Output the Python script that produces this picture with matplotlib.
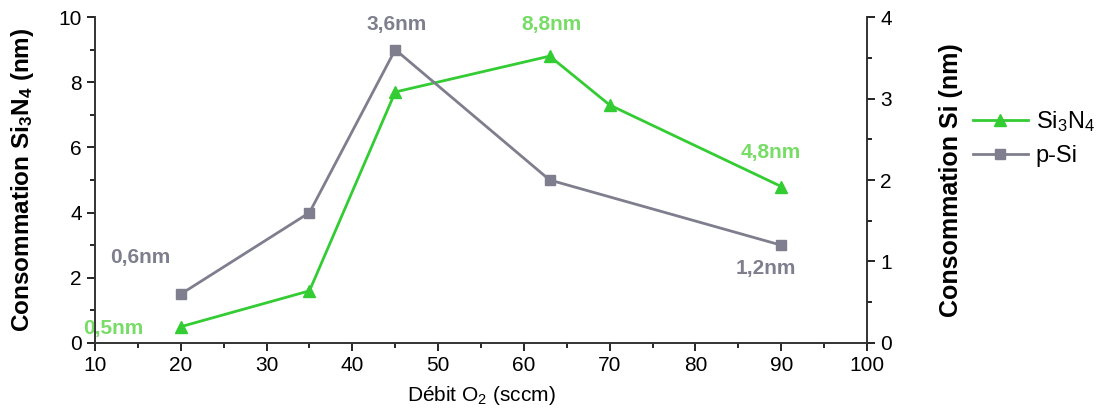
import matplotlib
matplotlib.use("Agg")
import matplotlib.pyplot as plt
from matplotlib.ticker import MultipleLocator
from matplotlib.lines import Line2D

plt.rcParams['font.family'] = ['Liberation Sans', 'DejaVu Sans']
plt.rcParams['mathtext.fontset'] = 'custom'
plt.rcParams['mathtext.rm'] = 'Liberation Sans'
plt.rcParams['mathtext.bf'] = 'Liberation Sans:bold'
plt.rcParams['mathtext.it'] = 'Liberation Sans:italic'

# data
x_sin = [20, 35, 45, 63, 70, 90]
y_sin = [0.5, 1.6, 7.7, 8.8, 7.3, 4.8]
x_psi = [20, 35, 45, 63, 90]
y_psi = [0.6, 1.6, 3.6, 2.0, 1.2]

GREEN = "#33cc33"
GREEN_TXT = "#77dd66"
GRAY = "#7f7e8e"

fig = plt.figure(figsize=(10.96, 4.12), dpi=100)
ax = fig.add_axes([0.0867, 0.1675, 0.7044, 0.7912])
ax2 = ax.twinx()

ax.plot(x_sin, y_sin, color=GREEN, lw=2, marker="^", ms=8, zorder=3)
ax2.plot(x_psi, y_psi, color=GRAY, lw=2, marker="s", ms=7, zorder=3)

ax.set_xlim(10, 100)
ax.set_ylim(0, 10)
ax2.set_ylim(0, 4)
ax.xaxis.set_major_locator(MultipleLocator(10))
ax.xaxis.set_minor_locator(MultipleLocator(5))
ax.yaxis.set_major_locator(MultipleLocator(2))
ax.yaxis.set_minor_locator(MultipleLocator(1))
ax2.yaxis.set_major_locator(MultipleLocator(1))
ax2.yaxis.set_minor_locator(MultipleLocator(0.5))

for a in (ax, ax2):
    a.spines['top'].set_visible(False)
    for s in a.spines.values():
        s.set_color("#333333")
        s.set_linewidth(1.2)
    a.tick_params(which='major', direction='out', length=6, width=1.2, labelsize=15)
    a.tick_params(which='minor', direction='out', length=3.5, width=1.2)

ax.set_xlabel("Débit O$_2$ (sccm)", fontsize=15, labelpad=6)
ax.set_ylabel(r"Consommation Si$_\mathbf{3}$N$_\mathbf{4}$ (nm)", fontsize=17.5, fontweight='bold', labelpad=16)
ax2.set_ylabel("Consommation Si (nm)", fontsize=18, fontweight='bold', labelpad=34)

ann_kw = dict(textcoords='offset pixels', ha='center', va='center', fontsize=15, fontweight='bold')
ax2.annotate("0,6nm", (20, 0.6), xytext=(-41, 37), color=GRAY, **ann_kw)
ax.annotate("0,5nm", (20, 0.5), xytext=(-68, -2), color=GREEN_TXT, **ann_kw)
ax2.annotate("3,6nm", (45, 3.6), xytext=(1, 25), color=GRAY, **ann_kw)
ax.annotate("8,8nm", (63, 8.8), xytext=(2, 32), color=GREEN_TXT, **ann_kw)
ax.annotate("4,8nm", (90, 4.8), xytext=(-11, 34), color=GREEN_TXT, **ann_kw)
ax2.annotate("1,2nm", (90, 1.2), xytext=(-15, -23), color=GRAY, **ann_kw)

handles = [Line2D([], [], color=GREEN, lw=2, marker="^", ms=8),
           Line2D([], [], color=GRAY, lw=2, marker="s", ms=7)]
fig.legend(handles, ["Si$_3$N$_4$", "p-Si"], loc='center left', bbox_to_anchor=(0.888, 0.665),
           frameon=False, fontsize=17, handlelength=2.3, labelspacing=0.45, handletextpad=0.35,
           borderpad=0, borderaxespad=0)

fig.savefig("out.png", dpi=100)
